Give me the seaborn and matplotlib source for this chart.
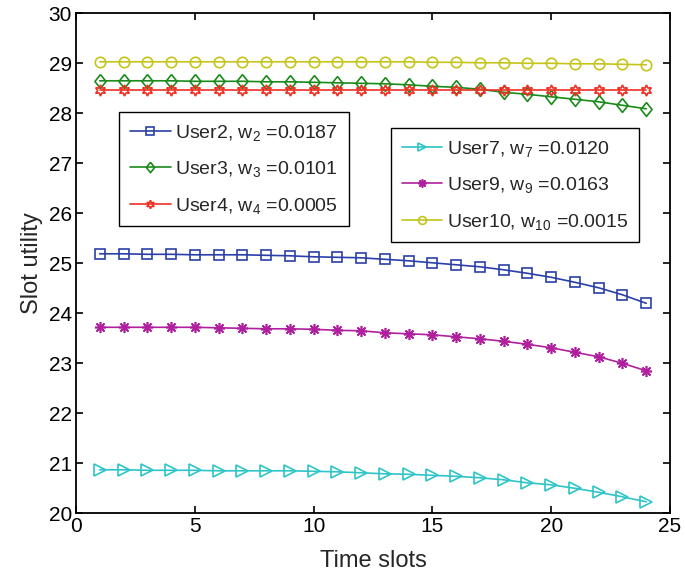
import numpy as np
import pandas as pd
import matplotlib
matplotlib.use("Agg")
import matplotlib.pyplot as plt
import seaborn as sns

slots = list(range(1, 25))

user2 = [25.19, 25.19, 25.18, 25.18, 25.17, 25.17, 25.17, 25.16, 25.15, 25.13, 25.12, 25.11,
         25.08, 25.05, 25.01, 24.97, 24.93, 24.87, 24.80, 24.72, 24.62, 24.51, 24.37, 24.20]
user3 = [28.65, 28.65, 28.65, 28.65, 28.64, 28.64, 28.64, 28.63, 28.63, 28.62, 28.61, 28.60,
         28.59, 28.57, 28.54, 28.52, 28.48, 28.42, 28.38, 28.33, 28.28, 28.23, 28.16, 28.09]
user4 = [28.47] * 24
user7 = [20.87, 20.87, 20.86, 20.86, 20.86, 20.85, 20.85, 20.85, 20.85, 20.84, 20.83, 20.81,
         20.79, 20.78, 20.76, 20.74, 20.71, 20.67, 20.61, 20.57, 20.50, 20.42, 20.33, 20.23]
user9 = [23.72, 23.72, 23.72, 23.72, 23.72, 23.71, 23.70, 23.69, 23.69, 23.68, 23.66, 23.65,
         23.61, 23.59, 23.57, 23.53, 23.49, 23.44, 23.38, 23.31, 23.22, 23.13, 23.00, 22.85]
user10 = [29.03, 29.03, 29.03, 29.03, 29.03, 29.03, 29.03, 29.03, 29.03, 29.03, 29.03, 29.03,
          29.03, 29.03, 29.02, 29.02, 29.01, 29.01, 29.00, 29.00, 28.99, 28.99, 28.98, 28.97]

labels = {
    "u2": r"User2, w$_{2}$ =0.0187",
    "u3": r"User3, w$_{3}$ =0.0101",
    "u4": r"User4, w$_{4}$ =0.0005",
    "u7": r"User7, w$_{7}$ =0.0120",
    "u9": r"User9, w$_{9}$ =0.0163",
    "u10": r"User10, w$_{10}$ =0.0015",
}

sns.set_style("ticks")
plt.rcParams["font.family"] = ["Liberation Sans", "DejaVu Sans"]
plt.rcParams["mathtext.fontset"] = "custom"
plt.rcParams["mathtext.rm"] = "Liberation Sans"
plt.rcParams["mathtext.it"] = "Liberation Sans"
plt.rcParams["mathtext.default"] = "rm"

fig = plt.figure(figsize=(6.85, 5.82), dpi=100)
ax = fig.add_axes([76 / 685, 1 - 513.3 / 582, 594 / 685, 500 / 582])

diamond = [(0, 1), (0.8, 0), (0, -1), (-0.8, 0), (0, 1)]
series = [
    ("u2", user2, "#2b3fa8", "s", 7),
    ("u3", user3, "#1a8a1a", diamond, 10),
    ("u4", user4, "#ee3024", (6, 1, 0), 8),
    ("u7", user7, "#2ec4c8", ">", 8),
    ("u9", user9, "#b0209e", (8, 2, 0), 8),
    ("u10", user10, "#c4c41a", "o", 7.5),
]

handles = {}
for key, vals, col, mk, ms in series:
    df = pd.DataFrame({"slot": slots, "val": vals})
    sns.lineplot(data=df, x="slot", y="val", ax=ax, color=col, marker=mk,
                 markersize=ms, markerfacecolor="none", markeredgecolor=col,
                 markeredgewidth=1.2, linewidth=1.2, label=labels[key], legend=False)
    handles[key] = ax.lines[-1]

ax.set_xlim(0, 25)
ax.set_ylim(20, 30)
ax.set_xticks([0, 5, 10, 15, 20, 25])
ax.set_yticks(list(range(20, 31)))
ax.tick_params(direction="in", top=True, right=True, length=5, width=1.2,
               labelsize=15, colors="black", pad=3)
for s in ax.spines.values():
    s.set_linewidth(1.3)
    s.set_color("black")
ax.set_xlabel("Time slots", fontsize=17, labelpad=10)
ax.set_ylabel("Slot utility", fontsize=17, labelpad=4)

leg_kw = dict(fontsize=14, frameon=True, fancybox=False, edgecolor="black",
              framealpha=1, handlelength=2.1, labelspacing=0.85, borderaxespad=0,
              handletextpad=0.25, borderpad=0.55, loc="upper left", markerscale=0.75)
leg1 = ax.legend([handles[k] for k in ["u2", "u3", "u4"]],
                 [labels[k] for k in ["u2", "u3", "u4"]],
                 bbox_to_anchor=(0.0724, 0.8026), **leg_kw)
leg1.get_frame().set_linewidth(1.0)
ax.add_artist(leg1)
leg2 = ax.legend([handles[k] for k in ["u7", "u9", "u10"]],
                 [labels[k] for k in ["u7", "u9", "u10"]],
                 bbox_to_anchor=(0.530, 0.7706), **leg_kw)
leg2.get_frame().set_linewidth(1.0)

fig.savefig("out.png", dpi=100)
